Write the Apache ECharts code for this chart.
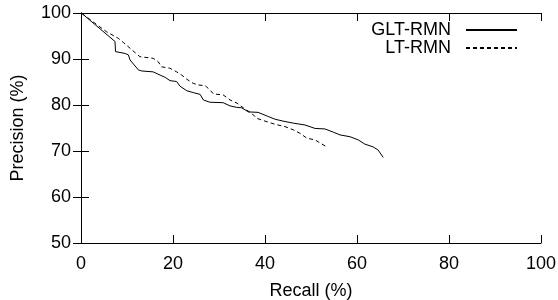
<!DOCTYPE html>
<html>
<head>
<meta charset="utf-8">
<script src="https://cdn.jsdelivr.net/npm/echarts@6/dist/echarts.min.js"></script>
<style>
  html, body { margin: 0; padding: 0; background: #fff; }
  #main { width: 558px; height: 300px; }
</style>
</head>
<body>
<div id="main"></div>
<script>
// 数据：召回率 / 精确率
var xTicks = [0, 20, 40, 60, 80, 100];
var yTicks = [50, 60, 70, 80, 90, 100];

var gltRecall = [0.2, 7.4, 7.5, 9.6, 10.3, 10.65, 12.5, 13.2, 15.7, 17.2, 18.3, 19.35, 20.8, 21.5, 23.0, 24.4, 25.9, 26.6, 28.0, 30.9, 32.4, 33.8, 34.9, 36.4, 38.5, 40.7, 42.2, 44.35, 46.5, 48.7, 50.9, 53.0, 54.85, 56.3, 58.5, 60.3, 61.7, 63.5, 64.6, 65.7];
var gltPrecision = [99.9, 93.8, 91.6, 91.2, 90.9, 89.8, 87.6, 87.4, 87.2, 86.5, 86.0, 85.3, 85.1, 84.1, 83.1, 82.7, 82.3, 81.1, 80.6, 80.5, 79.8, 79.5, 79.4, 78.5, 78.4, 77.5, 76.9, 76.4, 76.0, 75.65, 74.9, 74.8, 74.1, 73.5, 73.1, 72.4, 71.5, 70.9, 70.2, 68.6];

var ltRecall = [0.2, 3.8, 5.6, 8.1, 9.2, 10.7, 12.8, 15.7, 16.8, 17.5, 19.3, 20.8, 21.9, 23.0, 24.4, 25.5, 27.0, 28.0, 28.8, 30.9, 32.4, 34.1, 35.65, 37.1, 38.2, 40.0, 42.2, 44.35, 46.15, 47.6, 49.1, 50.9, 53.4];
var ltPrecision = [99.9, 97.2, 95.9, 94.5, 93.6, 92.3, 90.5, 90.15, 89.4, 88.3, 88.0, 87.2, 86.5, 85.6, 84.7, 84.35, 84.2, 83.3, 82.4, 82.2, 81.1, 80.3, 79.1, 78.2, 77.1, 76.5, 75.8, 75.3, 74.6, 73.85, 72.8, 72.4, 70.9];

function pairs(xs, ys) {
    var out = [];
    for (var i = 0; i < xs.length; i++) {
        out.push([xs[i], ys[i]]);
    }
    return out;
}

var FONT = '"Liberation Sans", Arial, sans-serif';
var chart = echarts.init(document.getElementById('main'));

var tickStyle = { show: true, inside: true, length: 8, lineStyle: { color: '#000', width: 1 } };
var lineStyleAxis = { show: true, lineStyle: { color: '#000', width: 1 } };

var legendText = { fontFamily: FONT, fontSize: 18, color: '#000', padding: [0, 10, 0, 0] };
// 图例只画线，不画圆点
var legendItem = { color: 'transparent', borderWidth: 0, opacity: 0 };

var option = {
    backgroundColor: '#fff',
    animation: false,
    grid: { left: 81, right: 17, top: 13, bottom: 57, outerBoundsMode: 'none' },
    legend: [{
        data: ['GLT-RMN'],
        right: 40, top: 21, padding: 0,
        align: 'right',
        itemWidth: 51, itemHeight: 18,
        itemStyle: legendItem,
        textStyle: legendText,
        selectedMode: false
    }, {
        data: ['LT-RMN'],
        right: 40, top: 39, padding: 0,
        align: 'right',
        itemWidth: 51, itemHeight: 18,
        itemStyle: legendItem,
        textStyle: legendText,
        selectedMode: false
    }],
    xAxis: [{
        type: 'value',
        min: xTicks[0], max: xTicks[xTicks.length - 1], interval: 20,
        name: 'Recall (%)',
        nameLocation: 'middle',
        nameGap: 39,
        nameTextStyle: { fontFamily: FONT, fontSize: 18, color: '#000' },
        axisLine: lineStyleAxis,
        axisTick: tickStyle,
        axisLabel: { margin: 12, fontFamily: FONT, fontSize: 18, color: '#000' },
        splitLine: { show: false }
    }, {
        type: 'value', position: 'top',
        min: xTicks[0], max: xTicks[xTicks.length - 1], interval: 20,
        axisLine: lineStyleAxis,
        axisTick: tickStyle,
        axisLabel: { show: false },
        splitLine: { show: false }
    }],
    yAxis: [{
        type: 'value',
        min: yTicks[0], max: yTicks[yTicks.length - 1], interval: 10,
        name: 'Precision (%)',
        nameLocation: 'middle',
        nameGap: 54,
        nameTextStyle: { fontFamily: FONT, fontSize: 18, color: '#000' },
        axisLine: lineStyleAxis,
        axisTick: tickStyle,
        axisLabel: { margin: 10, fontFamily: FONT, fontSize: 18, color: '#000' },
        splitLine: { show: false }
    }, {
        type: 'value', position: 'right',
        min: yTicks[0], max: yTicks[yTicks.length - 1], interval: 10,
        axisLine: lineStyleAxis,
        axisTick: tickStyle,
        axisLabel: { show: false },
        splitLine: { show: false }
    }],
    series: [{
        name: 'GLT-RMN',
        type: 'line',
        symbol: 'none',
        data: pairs(gltRecall, gltPrecision),
        itemStyle: { color: '#000' },
        lineStyle: { color: '#000', width: 1, type: 'solid' }
    }, {
        name: 'LT-RMN',
        type: 'line',
        symbol: 'none',
        data: pairs(ltRecall, ltPrecision),
        itemStyle: { color: '#000' },
        lineStyle: { color: '#000', width: 1, type: [4, 3] }
    }]
};
chart.setOption(option);
</script>
</body>
</html>
